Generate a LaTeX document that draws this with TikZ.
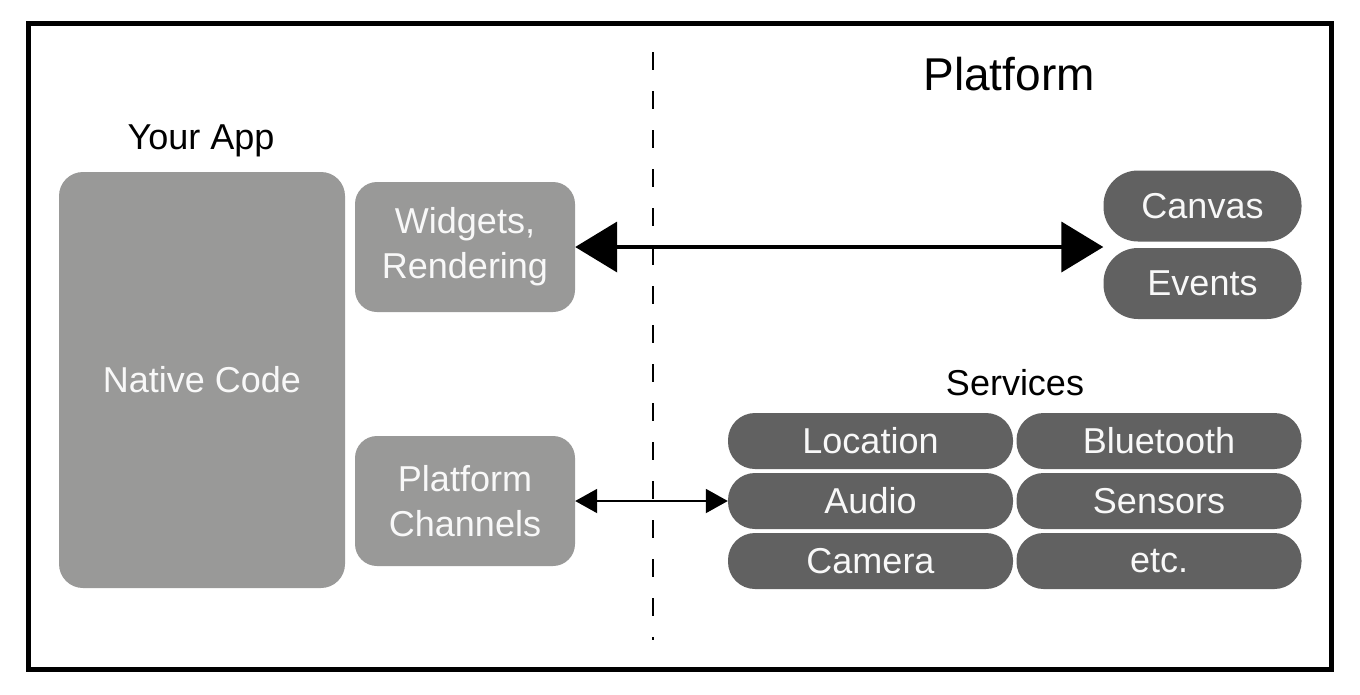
\documentclass[tikz,border=0pt]{standalone}
\usepackage{fontspec}
\setmainfont{Liberation Sans}
\usetikzlibrary{arrows.meta,calc}
\definecolor{lightbox}{RGB}{153,153,152}
\definecolor{darkbox}{RGB}{97,97,97}
\definecolor{boxtext}{RGB}{248,248,248}
\begin{document}
\begin{tikzpicture}[x=1pt,y=-1pt,
  lbl/.style={font=\fontsize{36}{45}\selectfont, text=black, inner sep=0pt, anchor=base},
  appbox/.style={fill=lightbox, rounded corners=24pt, inner sep=0pt, text=boxtext,
    font=\fontsize{36}{45}\selectfont, align=center},
  pill/.style={fill=darkbox, rounded corners=#1, inner sep=0pt, text=boxtext,
    font=\fontsize{36}{45}\selectfont, align=center},
  pill/.default=27pt,
  bigarrow/.style={line width=4pt, {Triangle[length=42pt,width=50pt]}-{Triangle[length=42pt,width=50pt]}},
  smallarrow/.style={line width=2pt, {Triangle[length=22pt,width=24pt]}-{Triangle[length=22pt,width=24pt]}}
]
\useasboundingbox (0,0) rectangle (1360,694);
\fill[white] (0,0) rectangle (1360,694);
% frame
\draw[line width=5pt] (28,23) rectangle (1331,669);
% divider
\coordinate (dtop) at (653,52);
\coordinate (dbot) at (653,640);
\draw[line width=2pt, dash pattern=on 18pt off 21pt] (dtop) -- (dbot);
% titles
\node[lbl] (yourapp) at (201,149) {Your App};
\node[lbl, font=\fontsize{46}{55}\selectfont] (platform) at (1009,90) {Platform};
\node[lbl] (services) at (1015,395) {Services};
% app side
\node[appbox, minimum width=286pt, minimum height=416pt] (native) at (202,380) {Native Code};
\node[appbox, rounded corners=22pt, minimum width=220pt, minimum height=130pt] (widgets) at (465,247) {Widgets,\\Rendering};
\node[appbox, rounded corners=22pt, minimum width=220pt, minimum height=130pt] (channels) at (465,501) {Platform\\Channels};
% platform side
\node[pill=34.5pt, minimum width=198pt, minimum height=71pt] (canvas) at (1202.5,206) {Canvas};
\node[pill=34.5pt, minimum width=198pt, minimum height=71pt] (events) at (1202.5,283.5) {Events};
\node[pill, minimum width=285pt, minimum height=56pt] (location) at (870.5,441) {Location};
\node[pill, minimum width=285pt, minimum height=56pt] (bluetooth) at (1159,441) {Bluetooth};
\node[pill, minimum width=285pt, minimum height=56pt] (audio) at (870.5,501) {Audio};
\node[pill, minimum width=285pt, minimum height=56pt] (sensors) at (1159,501) {Sensors};
\node[pill, minimum width=285pt, minimum height=56pt] (camera) at (870.5,561) {Camera};
\node[pill, minimum width=285pt, minimum height=56pt] (etc) at (1159,561) {etc.};
% connectors
\coordinate (ce) at ($(canvas.south west)!0.5!(events.north west)$);
\draw[bigarrow] (widgets.east) -- (widgets.east -| ce);
\draw[smallarrow] (channels.east) -- (audio.west);
\end{tikzpicture}
\end{document}
